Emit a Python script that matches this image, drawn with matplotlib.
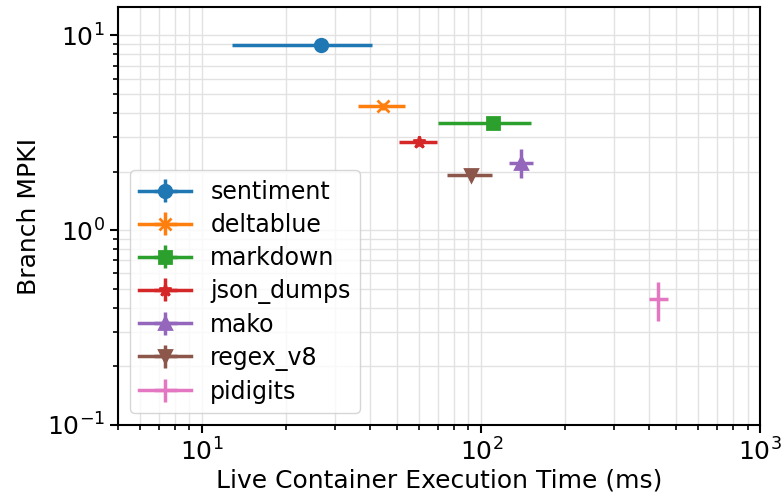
import matplotlib.pyplot as plt
import numpy as np

# benchmark data (times in ms, branch MPKI)
names = ["sentiment", "deltablue", "markdown", "json_dumps", "mako", "regex_v8", "pidigits"]
markers = ["o", "x", "s", "*", "^", "v", "+"]

time_mid = [26.7, 44.4, 110, 59.8, 139, 92, 431]
time_lo = [12.8, 36.1, 70.1, 50.6, 126, 75.5, 399]
time_hi = [40.5, 53.5, 151, 69.2, 153, 109, 467]

mpki_mid = [8.9, 4.32, 3.55, 2.84, 2.22, 1.91, 0.441]
mpki_lo = [8.6, 4.15, 3.40, 2.70, 1.85, 1.82, 0.341]
mpki_hi = [9.2, 4.50, 3.70, 3.00, 2.60, 2.00, 0.543]

fig = plt.figure(figsize=(7.83, 4.97), dpi=100)
ax = fig.add_axes([0.151, 0.145, 0.820, 0.841])

for i, name in enumerate(names):
    xerr = [[time_mid[i] - time_lo[i]], [time_hi[i] - time_mid[i]]]
    yerr = [[mpki_mid[i] - mpki_lo[i]], [mpki_hi[i] - mpki_mid[i]]]
    ax.errorbar([time_mid[i]], [mpki_mid[i]], xerr=xerr, yerr=yerr,
                marker=markers[i], markersize=9, linewidth=2.5, markeredgewidth=2,
                label=name)

ax.set_xscale("log")
ax.set_yscale("log")
ax.set_xlim(5, 1000)
ax.set_ylim(0.1, 14)
ax.grid(True, which="both", color="#e2e2e2", linewidth=1)
ax.set_axisbelow(True)
for sp in ax.spines.values():
    sp.set_linewidth(1.5)

ax.set_xlabel("Live Container Execution Time (ms)", fontsize=18, labelpad=2)
ax.set_ylabel("Branch MPKI", fontsize=18)
ax.tick_params(axis="both", which="major", labelsize=18, width=1.5, length=6)
ax.tick_params(axis="both", which="minor", width=1.2, length=3.5)

ax.legend(loc="lower left", fontsize=17, borderaxespad=0.5, handlelength=2.2,
          labelspacing=0.38)

fig.savefig("out.png", dpi=100)
